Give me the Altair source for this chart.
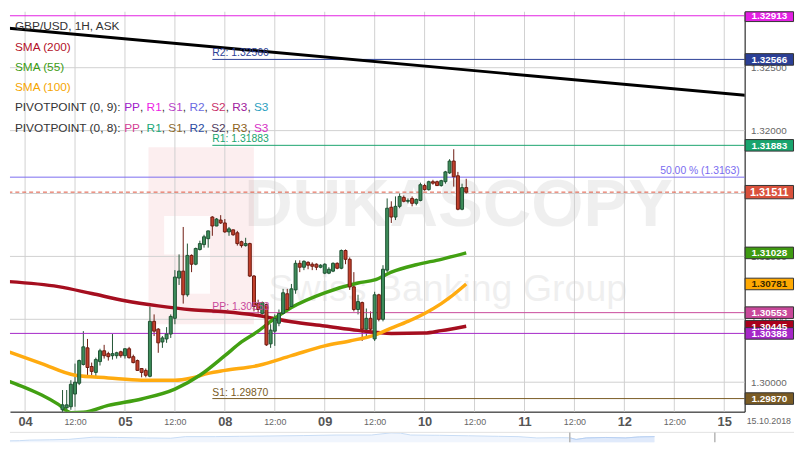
import altair as alt
import pandas as pd

# ---------------- data ----------------
# x = trading hours since Thu 04.10.2018 00:00 (weekend removed, 24 h per trading day)
hour = list(range(9, 107))
open_ = [1.29781, 1.29797, 1.29805, 1.29906, 1.29992, 1.30141, 1.30273, 1.30125, 1.30078, 1.30164,
         1.30250, 1.30227, 1.30211, 1.30211, 1.30242, 1.30211, 1.30266, 1.30203, 1.30172, 1.30109,
         1.30094, 1.30047, 1.30484, 1.30422, 1.30320, 1.30344, 1.30383, 1.30508, 1.30828, 1.30883,
         1.30695, 1.31008, 1.30938, 1.31055, 1.31094, 1.31141, 1.31313, 1.31242, 1.31289, 1.31266,
         1.31195, 1.31211, 1.31188, 1.31117, 1.31086, 1.31102, 1.30844, 1.30625, 1.30547, 1.30617,
         1.30305, 1.30406, 1.30469, 1.30547, 1.30703, 1.30602, 1.30734, 1.30945, 1.30914, 1.30953,
         1.30938, 1.30938, 1.30914, 1.30867, 1.30867, 1.30883, 1.30945, 1.30906, 1.31047, 1.30977,
         1.30758, 1.30578, 1.30633, 1.30422, 1.30508, 1.30344, 1.30695, 1.30500, 1.30891, 1.31391,
         1.31313, 1.31398, 1.31469, 1.31438, 1.31461, 1.31422, 1.31445, 1.31563, 1.31531, 1.31594,
         1.31594, 1.31563, 1.31594, 1.31664, 1.31758, 1.31641, 1.31375, 1.31547]
high = [1.29938, 1.29938, 1.30016, 1.30148, 1.30180, 1.30406, 1.30344, 1.30156, 1.30195, 1.30266,
        1.30297, 1.30242, 1.30383, 1.30242, 1.30250, 1.30270, 1.30281, 1.30219, 1.30180, 1.30112,
        1.30109, 1.30602, 1.30539, 1.30430, 1.30367, 1.30438, 1.30539, 1.30891, 1.31016, 1.31234,
        1.31102, 1.31016, 1.31070, 1.31125, 1.31172, 1.31205, 1.31320, 1.31305, 1.31328, 1.31297,
        1.31234, 1.31213, 1.31203, 1.31125, 1.31148, 1.31109, 1.30852, 1.30656, 1.30641, 1.30625,
        1.30461, 1.30539, 1.30578, 1.30742, 1.30742, 1.30781, 1.30969, 1.30969, 1.30969, 1.30961,
        1.30953, 1.30945, 1.30938, 1.30945, 1.30914, 1.30953, 1.30953, 1.31055, 1.31055, 1.30992,
        1.30875, 1.30695, 1.30641, 1.30586, 1.30563, 1.30719, 1.30703, 1.30930, 1.31461, 1.31438,
        1.31477, 1.31500, 1.31484, 1.31461, 1.31477, 1.31461, 1.31586, 1.31578, 1.31602, 1.31609,
        1.31602, 1.31609, 1.31680, 1.31773, 1.31852, 1.31672, 1.31578, 1.31617]
low = [1.29742, 1.29766, 1.29781, 1.29805, 1.29977, 1.30133, 1.30055, 1.30055, 1.30047, 1.30133,
       1.30188, 1.30172, 1.30180, 1.30188, 1.30195, 1.30188, 1.30188, 1.30150, 1.30090, 1.30039,
       1.30039, 1.30039, 1.30367, 1.30234, 1.30273, 1.30313, 1.30352, 1.30461, 1.30773, 1.30625,
       1.30680, 1.30875, 1.30930, 1.31047, 1.31070, 1.31070, 1.31164, 1.31240, 1.31258, 1.31188,
       1.31164, 1.31164, 1.31086, 1.31070, 1.31078, 1.30836, 1.30563, 1.30547, 1.30539, 1.30289,
       1.30273, 1.30289, 1.30445, 1.30539, 1.30563, 1.30586, 1.30703, 1.30875, 1.30891, 1.30898,
       1.30891, 1.30891, 1.30906, 1.30859, 1.30859, 1.30875, 1.30898, 1.30898, 1.30938, 1.30734,
       1.30563, 1.30539, 1.30328, 1.30344, 1.30391, 1.30328, 1.30484, 1.30484, 1.30875, 1.31266,
       1.31289, 1.31383, 1.31430, 1.31422, 1.31398, 1.31406, 1.31438, 1.31523, 1.31523, 1.31570,
       1.31560, 1.31555, 1.31578, 1.31656, 1.31555, 1.31367, 1.31367, 1.31500]
close = [1.29820, 1.29820, 1.29984, 1.30000, 1.30172, 1.30281, 1.30117, 1.30086, 1.30180, 1.30250,
         1.30211, 1.30203, 1.30227, 1.30234, 1.30211, 1.30266, 1.30195, 1.30156, 1.30094, 1.30078,
         1.30055, 1.30484, 1.30406, 1.30313, 1.30352, 1.30383, 1.30523, 1.30836, 1.30883, 1.30695,
         1.31008, 1.30938, 1.31063, 1.31102, 1.31156, 1.31203, 1.31242, 1.31297, 1.31266, 1.31195,
         1.31219, 1.31172, 1.31102, 1.31086, 1.31102, 1.30844, 1.30602, 1.30578, 1.30633, 1.30297,
         1.30414, 1.30508, 1.30547, 1.30711, 1.30578, 1.30742, 1.30945, 1.30914, 1.30961, 1.30930,
         1.30922, 1.30914, 1.30930, 1.30938, 1.30898, 1.30945, 1.30906, 1.31047, 1.30977, 1.30758,
         1.30578, 1.30641, 1.30422, 1.30508, 1.30422, 1.30695, 1.30500, 1.30898, 1.31383, 1.31313,
         1.31398, 1.31477, 1.31438, 1.31445, 1.31422, 1.31453, 1.31570, 1.31531, 1.31594, 1.31582,
         1.31563, 1.31602, 1.31672, 1.31758, 1.31633, 1.31375, 1.31547, 1.31511]

sma200_h = [-4, 8, 16, 24, 32, 40, 48, 56, 64, 72, 80, 88, 96, 100, 106]
sma200_v = [1.30800, 1.30760, 1.30705, 1.30648, 1.30607, 1.30576, 1.30560, 1.30530, 1.30480,
            1.30447, 1.30412, 1.30388, 1.30391, 1.30410, 1.30445]
sma55_h = [-4, 0, 4, 8, 11, 14, 20, 28, 36, 42, 48, 52, 56, 60, 64, 72, 80, 84, 88, 94, 100, 106]
sma55_v = [1.30008, 1.29957, 1.29898, 1.29824, 1.29758, 1.29762, 1.29816, 1.29867, 1.29945, 1.30055,
           1.30211, 1.30320, 1.30406, 1.30508, 1.30594, 1.30711, 1.30789, 1.30813, 1.30875, 1.30934,
           1.30977, 1.31028]
sma100_h = [-4, 4, 12, 20, 28, 36, 40, 44, 48, 56, 64, 72, 78, 84, 88, 92, 96, 100, 102, 106]
sma100_v = [1.30242, 1.30148, 1.30055, 1.30034, 1.30016, 1.30016, 1.30034, 1.30070, 1.30094, 1.30133,
            1.30211, 1.30289, 1.30328, 1.30375, 1.30430, 1.30484, 1.30547, 1.30625, 1.30672, 1.30781]

trend_h = [-4, 174]
trend_v = [1.32814, 1.32278]

lvl_price = [1.32913, 1.32566, 1.31883, 1.3163, 1.31511, 1.30553, 1.30388, 1.29870]
lvl_from = [-4, 45, 45, -4, -4, 45, -4, 45]
lvl_color = ["#e31fe3", "#2b3f96", "#19a46e", "#7a6cf0", "#e0533c", "#c8489a", "#a527c7", "#7a5b24"]
lvl_dash = [0, 0, 0, 0, 1, 0, 0, 0]

piv_text = ["R2: 1.32566", "R1: 1.31883", "PP: 1.30553", "S1: 1.29870"]
piv_price = [1.32566, 1.31883, 1.30553, 1.29870]
piv_color = ["#2b3f96", "#19a46e", "#c8489a", "#7a5b24"]
piv_from = 45
fib_text = "50.00 % (1.3163)"
fib_price = 1.3163

box_price = [1.32913, 1.32566, 1.31883, 1.31511, 1.31028, 1.30781, 1.30553, 1.30445, 1.30388, 1.29870]
box_fill = ["#e31fe3", "#2b3f96", "#19a46e", "#d9513c", "#3f9a12", "#ffa902", "#c8489a", "#a8001c",
            "#a527c7", "#7a5b24"]
box_txt = ["#ffffff"] * 5 + ["#3a2a00"] + ["#ffffff"] * 4
current_price = 1.31511

day_labels = ["04", "05", "08", "09", "10", "11", "12", "15"]
half_label = "12:00"
date_label = "15.10.2018"
x_ticks = list(range(0, 169, 12))
y_ticks = [1.300, 1.305, 1.310, 1.315, 1.320, 1.325]

nav_t = [0, 1.2, 2.5, 5, 7.5, 10.6, 13.7, 17.4, 20.5, 22.4, 26.2, 29.3, 32.4, 37.4, 41.7, 46.1,
         48.6, 49.8, 51.1, 54.8, 58.5, 62.3, 64.8, 67.2, 70.4, 71.4, 72.2, 73.5, 76, 78.5, 80.3, 82.2]
nav_v = [0.15, 0.17, 0.23, 0.26, 0.31, 0.54, 0.51, 0.46, 0.43, 0.6, 0.6, 0.63, 0.66, 0.71, 0.77, 0.77,
         1.0, 0.97, 0.77, 0.74, 0.69, 0.63, 0.6, 0.46, 0.49, 0.47, 0.3, 0.46, 0.51, 0.46, 0.57, 0.6]
nav_window = [71.4, 89.9]

legend_lines = [
    [("GBP/USD, 1H, ASK", "#333333")],
    [("SMA (200)", "#b3122a")],
    [("SMA (55)", "#3d9c14")],
    [("SMA (100)", "#f6a500")],
    [("PIVOTPOINT (0, 9): ", "#333333"), ("PP", "#a020c8"), (", ", "#333333"), ("R1", "#ee1ee6"),
     (", ", "#333333"), ("S1", "#b845c8"), (", ", "#333333"), ("R2", "#6b6be2"), (", ", "#333333"),
     ("S2", "#c8306a"), (", ", "#333333"), ("R3", "#a0209e"), (", ", "#333333"), ("S3", "#2aa0c0")],
    [("PIVOTPOINT (0, 8): ", "#333333"), ("PP", "#d43f96"), (", ", "#333333"), ("R1", "#1aa879"),
     (", ", "#333333"), ("S1", "#8c6b2e"), (", ", "#333333"), ("R2", "#2c4ba2"), (", ", "#333333"),
     ("S2", "#4f3a5e"), (", ", "#333333"), ("R3", "#8c6220"), (", ", "#333333"), ("S3", "#d630c6")],
]

# ---------------- layout / style ----------------
W, H = 744, 405
BW = 49
XD = [-3.63, 172.9]
YD = [1.29766, 1.32945]
sx = W / 753.0
sy = H / 407.0
SANS = "Liberation Sans, Arial, sans-serif"
GRID = "#d0d0d0"

xs = alt.Scale(domain=XD, nice=False, zero=False, padding=0)
ys = alt.Scale(domain=YD, nice=False, zero=False, padding=0)

lbl_expr = ("datum.value % 24 === 0 ? [" + ",".join("'%s'" % d for d in day_labels)
            + "][datum.value / 24] : '" + half_label + "'")
is_day = "datum.value % 24 === 0"
xaxis = alt.Axis(values=x_ticks, labelExpr=lbl_expr, grid=False,
                 domainColor="#000000", domainWidth=1, ticks=False, labelPadding=10,
                 labelBaseline="middle", labelFlush=False, labelFont=SANS, title=None,
                 labelFontSize={"condition": {"test": is_day, "value": 13}, "value": 9},
                 labelFontWeight={"condition": {"test": is_day, "value": "bold"}, "value": "normal"},
                 labelColor={"condition": {"test": is_day, "value": "#555555"}, "value": "#666666"})
yaxis = alt.Axis(orient="right", values=y_ticks, format=".5f", grid=False,
                 domainColor="#000000", domainWidth=1, ticks=False, labelPadding=6,
                 labelColor="#666666", labelFontSize=10, labelFont=SANS, labelFlush=False,
                 title=None)


def X(f):
    return alt.X(f, scale=xs, axis=xaxis)


def Y(f):
    return alt.Y(f, scale=ys, axis=yaxis)


one = pd.DataFrame({"a": [0]})

# watermark (decoration)
wm_rects = [
    ((142, 138, 250, 318), "#d81e2c", 0.075),
    ((158, 208, 205, 247), "#ffffff", 0.9),
    ((182, 247, 205, 287), "#ffffff", 0.9),
]
wm = []
for (x1, y1, x2, y2), col, op in wm_rects:
    wm.append(alt.Chart(one).mark_rect(color=col, opacity=op).encode(
        x=alt.value(x1 * sx), x2=alt.value(x2 * sx), y=alt.value(y1 * sy), y2=alt.value(y2 * sy)))
wm.append(alt.Chart(pd.DataFrame({"t": ["DUKASCOPY"]})).mark_text(
    font=SANS, fontWeight="bold", fontSize=68, align="left", baseline="alphabetic",
    color="#000000", opacity=0.06, clip=True).encode(x=alt.value(240 * sx), y=alt.value(218 * sy), text="t:N"))
wm.append(alt.Chart(pd.DataFrame({"t": ["Swiss Banking Group"]})).mark_text(
    font=SANS, fontSize=38, align="left", baseline="alphabetic",
    color="#000000", opacity=0.06, clip=True).encode(x=alt.value(265 * sx), y=alt.value(294 * sy), text="t:N"))

# grid lines (drawn from the tick arrays through the scales)
xgrid = alt.Chart(pd.DataFrame({"h": x_ticks})).mark_rule(color=GRID, strokeWidth=1).encode(x=X("h:Q"))
ygrid = alt.Chart(pd.DataFrame({"p": y_ticks})).mark_rule(color=GRID, strokeWidth=1).encode(y=Y("p:Q"))

# level lines
lvl = pd.DataFrame({"p": lvl_price, "f": lvl_from, "c": lvl_color, "d": lvl_dash})
lvl["e"] = XD[1] + 2
lines_solid = alt.Chart(lvl).transform_filter("datum.d == 0").mark_rule(strokeWidth=1, clip=True).encode(
    x=X("f:Q"), x2="e:Q", y=Y("p:Q"), color=alt.Color("c:N", scale=None))
lines_dash = alt.Chart(lvl).transform_filter("datum.d == 1").mark_rule(
    strokeWidth=1, strokeDash=[4, 3], clip=True).encode(
    x=X("f:Q"), x2="e:Q", y=Y("p:Q"), color=alt.Color("c:N", scale=None))

trend = alt.Chart(pd.DataFrame({"h": trend_h, "v": trend_v})).mark_line(
    color="#000000", strokeWidth=3, clip=True).encode(x=X("h:Q"), y=Y("v:Q"))


def sma(hs, vs, col):
    return alt.Chart(pd.DataFrame({"h": hs, "v": vs})).mark_line(
        color=col, strokeWidth=3.5, interpolate="monotone", clip=True).encode(x=X("h:Q"), y=Y("v:Q"))


s200 = sma(sma200_h, sma200_v, "#a50e1f")
s100 = sma(sma100_h, sma100_v, "#ffab10")
s55 = sma(sma55_h, sma55_v, "#42a012")

# candles
cdf = pd.DataFrame({"hour": hour, "open": open_, "high": high, "low": low, "close": close})
up = "datum.close >= datum.open"
wicks = alt.Chart(cdf).mark_rule(strokeWidth=1, clip=True).encode(
    x=X("hour:Q"), y=Y("low:Q"), y2="high:Q",
    color=alt.condition(up, alt.value("#1f5233"), alt.value("#6e1a10")))
bodies = alt.Chart(cdf).mark_bar(size=3, strokeWidth=1, clip=True).encode(
    x=X("hour:Q"), y=Y("open:Q"), y2="close:Q",
    fill=alt.condition(up, alt.value("#3d8c5a"), alt.value("#c2402c")),
    stroke=alt.condition(up, alt.value("#1f5233"), alt.value("#6e1a10")))

# pivot labels
pdf = pd.DataFrame({"t": piv_text, "p": piv_price, "c": piv_color, "h": [piv_from] * len(piv_text)})
piv = alt.Chart(pdf).mark_text(align="left", baseline="bottom", dy=-1, font=SANS, fontSize=10.5).encode(
    x=X("h:Q"), y=Y("p:Q"), text="t:N", color=alt.Color("c:N", scale=None))
fib = alt.Chart(pd.DataFrame({"t": [fib_text], "p": [fib_price]})).mark_text(
    align="right", baseline="bottom", dy=-1, font=SANS, fontSize=10.5, color="#7a6cf0").encode(
    x=alt.value(W - 5), y=Y("p:Q"), text="t:N")

# right-side price boxes
bdf = pd.DataFrame({"p": box_price, "f": box_fill, "tc": box_txt,
                    "lab": ["%.5f" % v for v in box_price]})
half_expr = "datum.p == %.5f ? 0.00053 : 0.00046" % current_price
boxes = alt.Chart(bdf).transform_calculate(
    lo="datum.p - (" + half_expr + ")",
    hi="min(datum.p + (" + half_expr + "), %.5f)" % YD[1]).mark_rect(
    stroke="#333333", strokeWidth=1).encode(
    x=alt.value(W + 0.5), x2=alt.value(W + BW + 0.5), y=Y("lo:Q"), y2="hi:Q",
    fill=alt.Fill("f:N", scale=None))
box_text = alt.Chart(bdf).mark_text(font=SANS, fontWeight="bold", baseline="middle", dy=0.5).encode(
    x=alt.value(W + BW / 2 + 0.5), y=Y("p:Q"), text="lab:N",
    color=alt.Color("tc:N", scale=None),
    size=alt.condition("datum.p == %.5f" % current_price, alt.value(11), alt.value(10)))
date_text = alt.Chart(pd.DataFrame({"t": [date_label]})).mark_text(
    font=SANS, fontSize=9, color="#666666", baseline="middle").encode(
    x=alt.value(W + BW / 2), y=alt.value(H + 10), text="t:N")

# legend text (top-left)
AW = {"P": 667, "I": 278, "V": 667, "O": 778, "T": 611, "N": 722, " ": 278, "(": 333, ")": 333,
      "0": 556, "8": 556, "9": 556, ",": 278, ":": 278, "R": 722, "S": 667, "1": 556, "2": 556,
      "3": 556}


def tw(s, size):
    return sum(AW.get(c, 556) for c in s) / 1000.0 * size


LEG_Y = [15, 35.5, 56, 76.5, 97, 117.5]
legend = []
for i, toks in enumerate(legend_lines):
    xpos = 5.0
    for txt, col in toks:
        legend.append(alt.Chart(pd.DataFrame({"t": [txt]})).mark_text(
            align="left", baseline="middle", font=SANS, fontSize=12, color=col).encode(
            x=alt.value(xpos), y=alt.value(LEG_Y[i]), text="t:N"))
        xpos += tw(txt, 12)

main = alt.layer(
    *wm, xgrid, ygrid, wicks, lines_solid, lines_dash, trend, s200, s100, s55, bodies,
    piv, fib, boxes, box_text, date_text, *legend
).properties(width=W, height=H)

# navigator strip
NW = W + BW + 1
ndf = pd.DataFrame({"t": nav_t, "v": nav_v})
nxs = alt.Scale(domain=[0, 100], nice=False, zero=False, padding=0)
nys = alt.Scale(domain=[0, 1.05], nice=False, padding=0)
nav_area = alt.Chart(ndf).mark_area(color="#eaf1fc", line={"color": "#c8dcf5", "strokeWidth": 1}).encode(
    x=alt.X("t:Q", scale=nxs, axis=None), y=alt.Y("v:Q", scale=nys, axis=None))
nav_win = alt.Chart(ndf).transform_filter("datum.t >= %s" % nav_window[0]).mark_area(
    color="#d8e5f9", line={"color": "#b9d0f2", "strokeWidth": 1}).encode(
    x=alt.X("t:Q", scale=nxs, axis=None), y=alt.Y("v:Q", scale=nys, axis=None))
nav_top = alt.Chart(one).mark_rule(color="#e3e3e3", strokeWidth=1).encode(y=alt.value(0))
nav_rules = alt.Chart(pd.DataFrame({"t": nav_window})).mark_rule(color="#b5b5b5", strokeWidth=1.5).encode(
    x=alt.X("t:Q", scale=nxs, axis=None))
nav = alt.layer(nav_area, nav_win, nav_top, nav_rules).properties(width=NW, height=10)

chart = alt.vconcat(main, nav, spacing=2).properties(
    padding=0, background="#ffffff"
).configure_view(strokeWidth=0)

chart.save("out.html", embed_options={"renderer": "svg", "actions": False})
